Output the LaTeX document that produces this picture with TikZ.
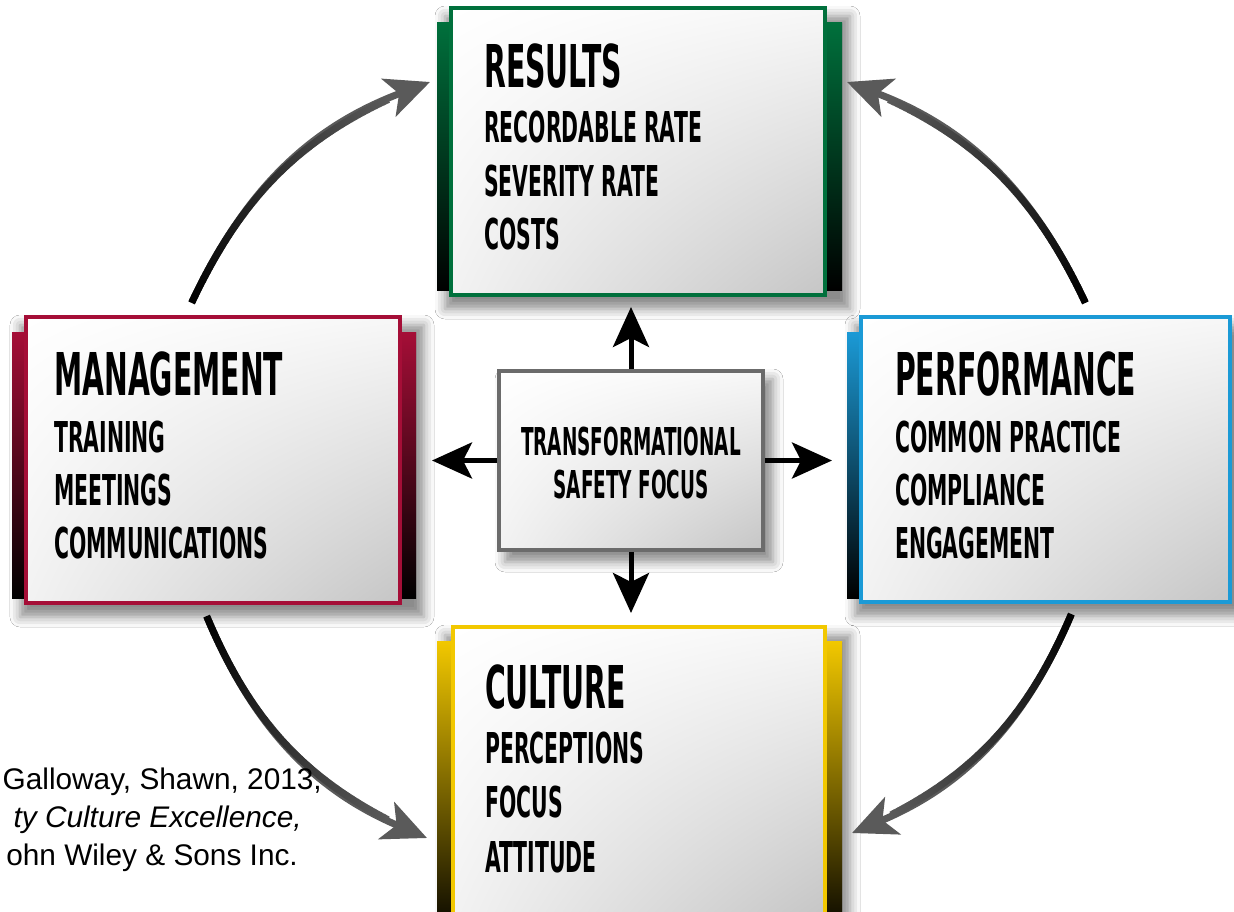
\documentclass[tikz,border=0pt]{standalone}
\usepackage{fontspec}
\setmainfont{Liberation Sans}
\newfontfamily\agency[FakeStretch=0.48]{DejaVu Sans}
\usetikzlibrary{arrows.meta,shadows.blur,shadings,decorations.markings,calc}

\definecolor{cgreen}{HTML}{00703C}
\definecolor{cred}{HTML}{A50E37}
\definecolor{cblue}{HTML}{1B9AD6}
\definecolor{cyellow}{HTML}{F2C800}
\definecolor{cgray}{HTML}{6B6B6B}
\definecolor{arrowgray}{HTML}{5A5A5A}

\tikzset{
  panel/.style={draw=#1, line width=4pt, rectangle, inner sep=0pt,
    upper left=white, upper right=gray!6, lower left=gray!10, lower right=gray!45},
  tab/.style={top color=#1, bottom color=black, middle color=#1!50!black},
  shadowbox/.style={blur shadow={shadow xshift=8pt, shadow yshift=-10pt,
    shadow blur radius=10pt, shadow opacity=45}},
  ttl/.style={anchor=base west, inner sep=0pt, font=\agency\bfseries\fontsize{59}{59}\selectfont},
  itm/.style={anchor=base west, inner sep=0pt, font=\agency\bfseries\fontsize{42.5}{42.5}\selectfont},
  ctr/.style={anchor=base, inner sep=0pt, font=\agency\bfseries\fontsize{38.4}{38.4}\selectfont},
  cite/.style={anchor=base east, inner sep=0pt, font=\fontsize{29.8}{29.8}\selectfont},
  carrow/.style={line width=5pt, black, -{Stealth[length=40pt,width=36pt,inset=9pt]}},
  curvearrow/.style={line width=7pt, draw=arrowgray, -{Stealth[length=44pt,width=40pt,inset=11pt]}},
  gradline/.style={postaction={decorate}, decoration={markings,
    mark=between positions 0 and 0.86 step 1.5pt with {
      \pgfmathsetmacro\gfrac{\pgfkeysvalueof{/pgf/decoration/mark info/distance from start}/\pgfdecoratedpathlength}
      \pgfmathsetmacro\gmix{max(0,100-(\gfrac/0.86)*100)}
      \fill[black!\gmix!arrowgray] (-1pt,-3.5pt) rectangle (1pt,3.5pt);
    }}},
}

\begin{document}
\begin{tikzpicture}[x=1pt,y=-1pt]
\fill[white] (0,0) rectangle (1234,912);
\useasboundingbox (0,0) rectangle (1234,912);
\clip (0,0) rectangle (1234,912);

% shadows
\path[shadowbox] (437,6) rectangle (842,299);
\path[shadowbox] (12,315) rectangle (416,607);
\path[shadowbox] (847,315) rectangle (1250,606);
\path[shadowbox] (437,625) rectangle (842,940);
\path[shadowbox] (497,369) rectangle (765,552);

% side tabs
\shade[tab=cgreen] (437,23) rectangle (449,290);
\shade[tab=cgreen] (827,23) rectangle (842,290);
\shade[tab=cred] (12,332) rectangle (24,598);
\shade[tab=cred] (402,332) rectangle (416,598);
\shade[tab=cblue] (847,332) rectangle (859,598);
\shade[tab=cyellow] (437,641) rectangle (451,940);
\shade[tab=cyellow] (827,641) rectangle (842,940);

% panels
\node[panel=cgreen, minimum width=374pt, minimum height=287pt] (results) at (638,151.5) {};
\node[panel=cred, minimum width=374pt, minimum height=286pt] (mgmt) at (213,460) {};
\node[panel=cblue, minimum width=369pt, minimum height=285pt] (perf) at (1045.5,459.5) {};
\node[panel=cyellow, minimum width=372pt, minimum height=288pt] (culture) at (639,771) {};
\node[panel=cgray, line width=3.5pt, minimum width=264pt, minimum height=179pt] (center) at (631,460.5) {};

% texts
\node[ttl] (results-t) at (484,88) {RESULTS};
\node[itm] (results-a) at (484,143) {RECORDABLE RATE};
\node[itm] (results-b) at (484,197) {SEVERITY RATE};
\node[itm] (results-c) at (484,250) {COSTS};

\node[ttl] (mgmt-t) at (54,395) {MANAGEMENT};
\node[itm] (mgmt-a) at (54,452) {TRAINING};
\node[itm] (mgmt-b) at (54,505) {MEETINGS};
\node[itm] (mgmt-c) at (54,558) {COMMUNICATIONS};

\node[ttl] (perf-t) at (895,395) {PERFORMANCE};
\node[itm] (perf-a) at (895,452) {COMMON PRACTICE};
\node[itm] (perf-b) at (895,505) {COMPLIANCE};
\node[itm] (perf-c) at (895,558) {ENGAGEMENT};

\node[ttl] (culture-t) at (485,708) {CULTURE};
\node[itm] (culture-a) at (485,763) {PERCEPTIONS};
\node[itm] (culture-b) at (485,817) {FOCUS};
\node[itm] (culture-c) at (485,872) {ATTITUDE};

\node[ctr] (center-a) at (631,455) {TRANSFORMATIONAL};
\node[ctr] (center-b) at (631,498) {SAFETY FOCUS};

% centre arrows
\draw[carrow, shorten >=10pt] (center.north) -- (center.north |- results.south);
\draw[carrow, shorten >=30pt] (center.west) -- (center.west -| mgmt.east);
\draw[carrow, shorten >=27pt] (center.east) -- (center.east -| perf.west);
\draw[carrow, shorten >=12pt] (center.south) -- (center.south |- culture.north);

% cycle arrows
\coordinate (tl-s) at ($(mgmt.north west)+(168,-13)$);
\coordinate (tl-e) at ($(results.north west)+(-19,76)$);
\coordinate (tr-s) at ($(perf.north west)+(226,-13)$);
\coordinate (tr-e) at ($(results.north east)+(20,76)$);
\coordinate (br-s) at ($(perf.south west)+(212,11)$);
\coordinate (br-e) at ($(culture.north east)+(25,208)$);
\coordinate (bl-s) at ($(mgmt.south west)+(183,12)$);
\coordinate (bl-e) at ($(culture.north west)+(-24,213)$);

\draw[curvearrow] (tl-s) to[bend left=22] (tl-e);
\path[gradline] (tl-s) to[bend left=22] (tl-e);
\draw[curvearrow] (tr-s) to[bend right=22] (tr-e);
\path[gradline] (tr-s) to[bend right=22] (tr-e);
\draw[curvearrow] (br-s) to[bend left=22] (br-e);
\path[gradline] (br-s) to[bend left=22] (br-e);
\draw[curvearrow] (bl-s) to[bend right=22] (bl-e);
\path[gradline] (bl-s) to[bend right=22] (bl-e);

% citation
\node[cite] (cite1) at (322,789) {Galloway, Shawn, 2013,};
\node[cite, font=\itshape\fontsize{29.8}{29.8}\selectfont] (cite2) at (302,827) {ty Culture Excellence,};
\node[cite] (cite3) at (298,865) {ohn Wiley \& Sons Inc.};
\end{tikzpicture}
\end{document}
